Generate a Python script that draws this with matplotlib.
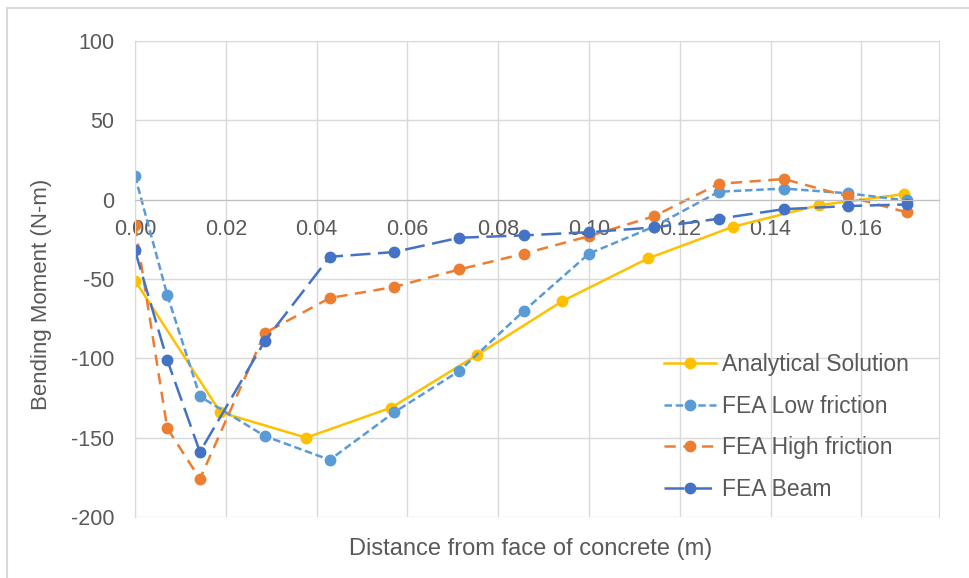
import matplotlib.pyplot as plt
import numpy as np
from matplotlib.patches import Rectangle

plt.rcParams['font.family'] = ['Liberation Sans', 'DejaVu Sans']
plt.rcParams['axes.unicode_minus'] = False

# analytical solution
ana_x = np.array([0, 0.0188, 0.0377, 0.0565, 0.0753, 0.0941, 0.1130, 0.1318, 0.1506, 0.1694])
ana_y = np.array([-51, -134, -150, -131, -98, -64, -37, -17, -3.5, 3.5])

# FEA series share the same x positions
fea_x = np.array([0, 0.0071, 0.0143, 0.0286, 0.0429, 0.0571, 0.0714,
                  0.0857, 0.1000, 0.1143, 0.1286, 0.1429, 0.1571, 0.1700])
low_y = np.array([15, -60, -124, -149, -164, -134, -108, -70, -34, -17, 5, 7, 4, -0.5])
high_y = np.array([-16, -144, -176, -84, -62, -55, -44, -34, -23, -10.5, 10, 13, 2, -8])
beam_y = np.array([-32, -101, -159, -89, -36, -33, -24, -22.5, -20.5, -17.5, -12, -6, -4, -3])

xticks = np.arange(0, 0.17, 0.02)
yticks = np.arange(-200, 101, 50)

gris = "#595959"
fig = plt.figure(figsize=(9.69, 5.78), dpi=100)
ax = fig.add_axes([135/969, 1-517/578, (939-135)/969, (517-41)/578])

ax.plot(ana_x, ana_y, "-o", color="#FFC000", lw=1.8, ms=7.5, label="Analytical Solution")
ax.plot(fea_x, low_y, "o", color="#5B9BD5", lw=1.8, ms=7.5, ls=(0, (3, 1.5)), label="FEA Low friction")
ax.plot(fea_x, high_y, "o", color="#ED7D31", lw=1.8, ms=7.5, ls=(0, (4.5, 3)), label="FEA High friction")
ax.plot(fea_x, beam_y, "o", color="#4472C4", lw=1.8, ms=7.5, ls=(0, (8, 3)), label="FEA Beam")

ax.set_xlim(0, 0.1771)
ax.set_ylim(-200, 100)
ax.set_xticks(xticks)
ax.set_xticklabels(["%.2f" % t for t in xticks])
ax.set_yticks(yticks)
ax.grid(True, color="#d9d9d9", lw=1)
ax.set_axisbelow(True)

ax.spines["bottom"].set_position(("data", 0))
ax.spines["bottom"].set_color("#bfbfbf")
for s in ["left", "top", "right"]:
    ax.spines[s].set_color("#d9d9d9")
ax.tick_params(length=0, labelsize=15.5, colors=gris)
ax.tick_params(axis="x", pad=14)
ax.tick_params(axis="y", pad=15)

fig.text(42/969, 1-294/578, "Bending Moment (N-m)", rotation=90, ha="center", va="center",
         fontsize=16, color=gris)
fig.text(531/969, 1-549/578, "Distance from face of concrete (m)", ha="center", va="center",
         fontsize=17, color=gris)

leg = ax.legend(loc="center left", bbox_to_anchor=(664/969, 1-427/578),
                bbox_transform=fig.transFigure, frameon=False, fontsize=16.5,
                borderpad=0, borderaxespad=0, handlelength=2.27, handletextpad=0.26,
                labelspacing=0.82)
for t in leg.get_texts():
    t.set_color(gris)

# cadre du graphique
fig.patches.append(Rectangle((7/969, -0.05), 1.2, 1-8/578+0.05, transform=fig.transFigure,
                             fill=False, edgecolor="#d9d9d9", lw=1.5))

fig.savefig("out.png", dpi=100)
